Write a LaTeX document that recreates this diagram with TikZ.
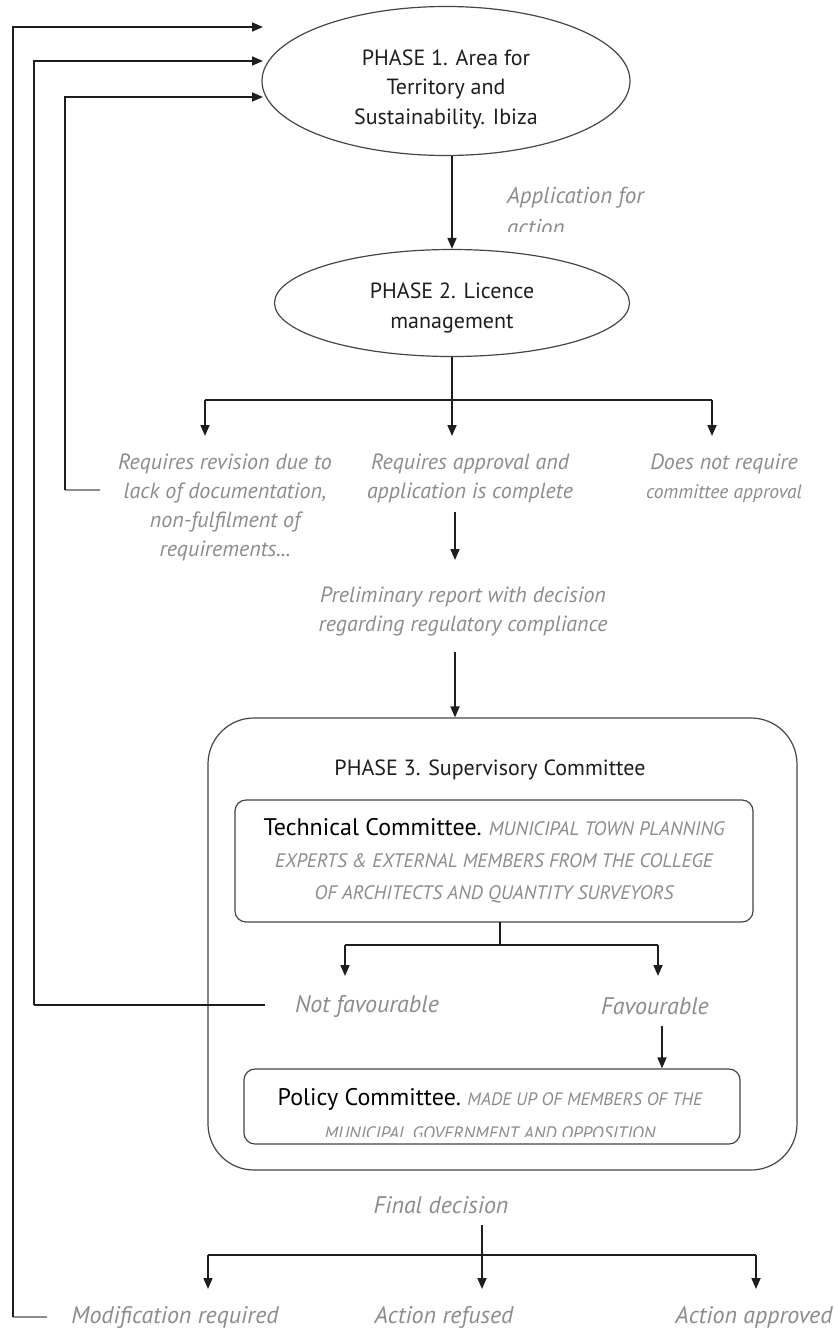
\documentclass[tikz,border=0pt]{standalone}
\usepackage{fontspec}
\setmainfont{PT Sans}
\usetikzlibrary{arrows.meta,shapes.geometric}
\definecolor{txtgray}{RGB}{140,140,140}
\definecolor{linecol}{RGB}{30,30,30}
\definecolor{boxcol}{RGB}{70,70,70}
\newcommand\fmain{\fontsize{22}{29.5}\selectfont}
\newcommand\fit{\fontsize{22}{29}\selectfont\itshape}
\newcommand\fbig{\fontsize{24}{29}\selectfont\itshape}
\newcommand\fsmall{\fontsize{19.5}{29}\selectfont\itshape}
\newcommand\fhead{\fontsize{24}{32}\selectfont\color{black}}
\newcommand\fcap{\fontsize{19.5}{32}\selectfont\itshape\color{txtgray}}
\newcommand\fcapp{\fontsize{18}{33}\selectfont\itshape\color{txtgray}}
\begin{document}
\begin{tikzpicture}[x=1pt,y=-1pt,
  ell/.style={ellipse,draw=boxcol,line width=1.2pt,inner sep=0pt,align=center,font=\fmain,text=linecol},
  lbl/.style={align=center,font=\fit,text=txtgray,inner sep=0pt},
  ln/.style={draw=linecol,line width=1.7pt},
  arr/.style={ln,-{Triangle[length=11pt,width=9pt]}},
  gstub/.style={draw=txtgray,line width=2pt},
  bigbox/.style={draw=boxcol,line width=1.2pt,rounded corners=46pt},
  smallbox/.style={draw=boxcol,line width=1.2pt,rounded corners=11pt}]
\useasboundingbox (0,0) rectangle (833,1333);
\fill[white] (0,0) rectangle (833,1333);

% Phase 1 and 2
\node[ell,minimum width=368pt,minimum height=149pt] (p1) at (446,81) {};
\node[align=center,font=\fmain,text=linecol,inner sep=0pt] (p1t) at (446,89) {PHASE 1. Area for\\Territory and\\Sustainability. Ibiza};
\node[ell,minimum width=355pt,minimum height=107pt] (p2) at (452,303) {};
\node[align=center,font=\fmain,text=linecol,inner sep=0pt] (p2t) at (452,308) {PHASE 2. Licence\\management};
\draw[arr] (p2.north |- p1.south) -- (p2.north);
\begin{scope}
\clip (500,170) rectangle (680,231);
\node[lbl,align=left,anchor=west,font=\fontsize{23}{32}\selectfont\itshape] (app) at (507,211) {Application for\\action};
\end{scope}

% branch after phase 2
\coordinate (b2) at (452,400);
\coordinate (b2l) at (205,400);
\coordinate (b2r) at (712,400);
\coordinate (e2l) at (205,436);
\coordinate (e2m) at (452,436);
\coordinate (e2r) at (712,436);
\draw[ln] (p2.south) -- (b2);
\draw[ln] (b2l) -- (b2r);
\draw[arr] (b2l) -- (e2l);
\draw[arr] (b2) -- (e2m);
\draw[arr] (b2r) -- (e2r);

\node[lbl] (rev) at (225,507) {Requires revision due to\\lack of documentation,\\non-fulfilment of\\requirements...};
\node[lbl] (appr) at (470,478) {Requires approval and\\application is complete};
\node[lbl] (dnr) at (724,478) {Does not require\\{\fsmall committee approval}};
\node[lbl] (pre) at (463,612) {Preliminary report with decision\\regarding regulatory compliance};
\coordinate (a2s) at (455,512);
\coordinate (a2e) at (455,560);
\draw[arr] (a2s) -- (a2e);

% Phase 3
\node[bigbox,minimum width=589pt,minimum height=452pt] (p3) at (502.5,944) {};
\coordinate (a3) at (455,652);
\draw[arr] (a3) -- (a3 |- p3.north);
\node[font=\fmain,text=linecol,inner sep=0pt] (p3t) at (490,770) {PHASE 3. Supervisory Committee};
\node[smallbox,minimum width=518pt,minimum height=122pt] (tc) at (494,861) {};
\node[align=center,inner sep=0pt,font=\fontsize{19.5}{32}\selectfont] (tct) at (494,861) {{\fhead Technical Committee.} {\fcap MUNICIPAL TOWN PLANNING}\\{\fcap EXPERTS \& EXTERNAL MEMBERS FROM THE COLLEGE}\\{\fcap OF ARCHITECTS AND QUANTITY SURVEYORS}};

\coordinate (b3t) at (500,922);
\coordinate (b3) at (500,945);
\coordinate (b3l) at (345,945);
\coordinate (b3r) at (658,945);
\coordinate (e3l) at (345,976);
\coordinate (e3r) at (658,976);
\draw[ln,line width=1.2pt] (b3t) -- (b3);
\draw[ln] (b3l) -- (b3r);
\draw[arr] (b3l) -- (e3l);
\draw[arr] (b3r) -- (e3r);
\node[lbl,font=\fbig] (nf) at (367,1006) {Not favourable};
\node[lbl,font=\fbig] (fav) at (655,1006) {Favourable};

\node[smallbox,minimum width=496pt,minimum height=75pt] (pol) at (492,1106.5) {};
\coordinate (a4) at (662,1026);
\draw[arr] (a4) -- (a4 |- pol.north);
\begin{scope}
\clip (244,1069) rectangle (740,1136);
\node[align=center,inner sep=0pt,font=\fontsize{18}{34}\selectfont] (polt) at (490,1114) {{\fhead Policy Committee.} {\fcapp MADE UP OF MEMBERS OF THE}\\{\fcapp MUNICIPAL GOVERNMENT AND OPPOSITION}};
\end{scope}

% final decision
\node[lbl,font=\fbig] (fd) at (441,1205) {Final decision};
\coordinate (b4t) at (482,1225);
\coordinate (b4) at (482,1255);
\coordinate (b4l) at (208,1255);
\coordinate (b4r) at (756,1255);
\coordinate (e4l) at (208,1289);
\coordinate (e4m) at (482,1289);
\coordinate (e4r) at (756,1289);
\draw[ln,line width=1.2pt] (b4t) -- (b4);
\draw[ln] (b4l) -- (b4r);
\draw[arr] (b4l) -- (e4l);
\draw[arr] (b4) -- (e4m);
\draw[arr] (b4r) -- (e4r);
\node[lbl,font=\fbig] (mod) at (175,1317) {Modification required};
\node[lbl,font=\fbig] (ref) at (444,1317) {Action refused};
\node[lbl,font=\fbig] (apv) at (754,1317) {Action approved};

% feedback loops
\coordinate (t1) at (263,27);
\coordinate (t2) at (263,61);
\coordinate (t3) at (263,97);
\coordinate (c1) at (13,1317);
\coordinate (s1) at (47,1317);
\coordinate (c2) at (34,1005);
\coordinate (s2) at (265,1005);
\coordinate (c3) at (65,490);
\coordinate (s3) at (100,490);
\draw[gstub] (c1) -- (s1);
\draw[arr] (c1) |- (t1);
\draw[ln] (s2) -- (c2);
\draw[arr] (c2) |- (t2);
\draw[gstub] (c3) -- (s3);
\draw[arr] (c3) |- (t3);
\end{tikzpicture}
\end{document}
